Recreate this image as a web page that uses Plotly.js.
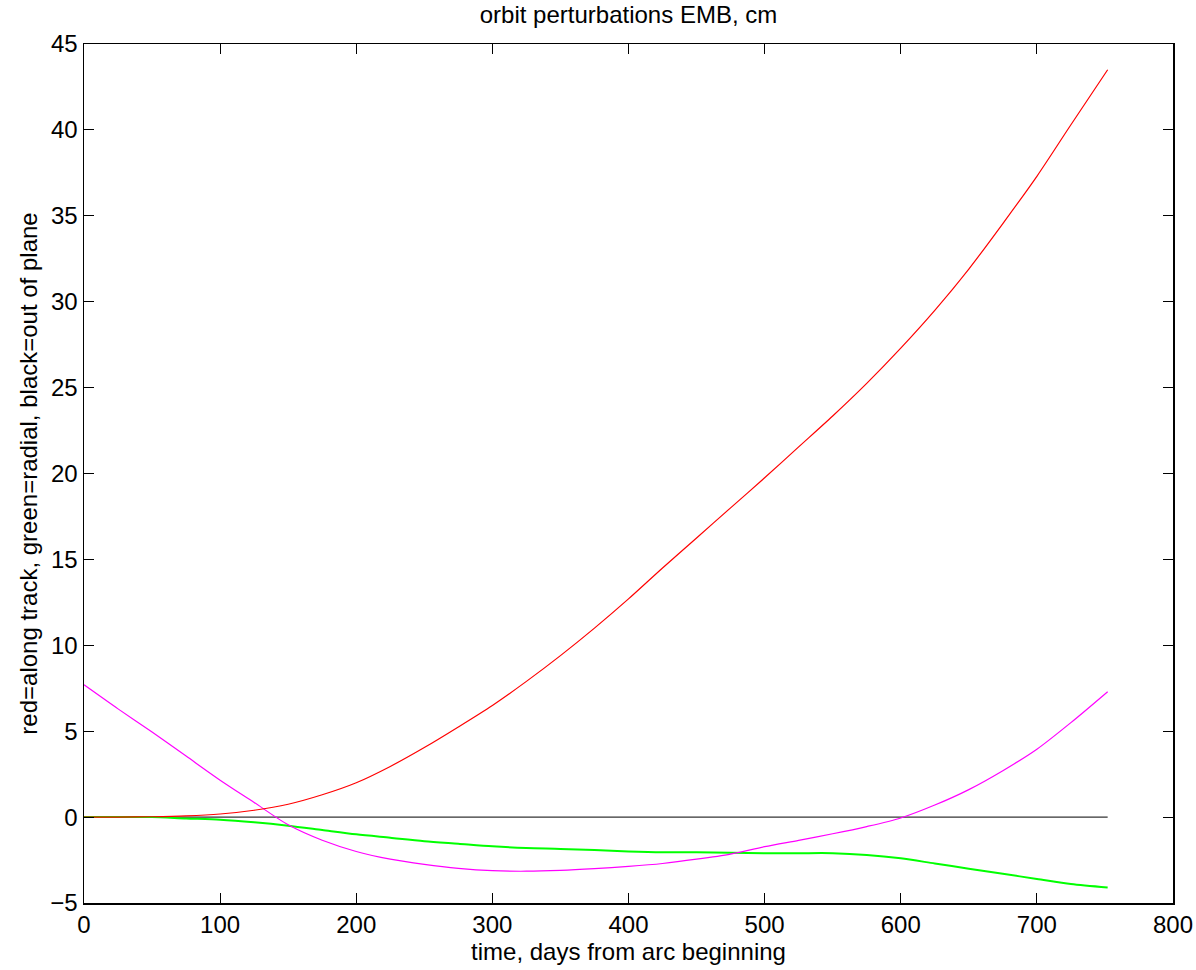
<!DOCTYPE html>
<html>
<head>
<meta charset="utf-8">
<script src="https://cdn.plot.ly/plotly-3.0.1.min.js"></script>
<style>html,body{margin:0;padding:0;background:#fff;}#chart{width:1196px;height:970px;}</style>
</head>
<body>
<div id="chart"></div>
<script>
const days = [0,25,50,75,100,125,150,175,200,225,250,275,300,325,350,375,400,425,450,475,500,525,550,575,600,625,650,675,700,725,752];
const alongTrack = [0,0,0.02,0.07,0.18,0.4,0.75,1.3,2.0,2.95,4.05,5.25,6.5,7.9,9.4,11.0,12.7,14.5,16.25,18.0,19.75,21.55,23.35,25.25,27.3,29.5,31.9,34.55,37.3,40.3,43.5];
const radial = [0,0,0,-0.08,-0.15,-0.3,-0.5,-0.75,-1.0,-1.2,-1.4,-1.55,-1.7,-1.8,-1.85,-1.92,-2.0,-2.05,-2.05,-2.08,-2.1,-2.1,-2.1,-2.2,-2.4,-2.7,-3.0,-3.3,-3.6,-3.9,-4.1];
const outOfPlane = [7.7,6.3,4.95,3.55,2.15,0.85,-0.45,-1.35,-2.0,-2.45,-2.75,-2.98,-3.12,-3.15,-3.1,-3.0,-2.87,-2.7,-2.45,-2.15,-1.72,-1.35,-0.97,-0.55,-0.05,0.7,1.6,2.7,3.95,5.5,7.3];
const zeroLine = [0,0];
const zeroDays = [0,752];

const traces = [
  {x: zeroDays, y: zeroLine, mode:'lines', line:{color:'#000000', width:1}, hoverinfo:'skip'},
  {x: days, y: radial, mode:'lines', line:{color:'#00ff00', width:2, shape:'spline', smoothing:0.8}},
  {x: days, y: outOfPlane, mode:'lines', line:{color:'#ff00ff', width:1.2, shape:'spline', smoothing:0.8}},
  {x: days, y: alongTrack, mode:'lines', line:{color:'#ff0000', width:1.2, shape:'spline', smoothing:0.8}}
];

const fontFam = 'Liberation Sans, Arial, Helvetica, sans-serif';
const layout = {
  width:1196, height:970,
  margin:{l:84, r:23, t:44, b:67},
  paper_bgcolor:'#ffffff', plot_bgcolor:'#ffffff',
  showlegend:false,
  font:{family:fontFam, color:'#000000', size:24},
  title:{text:'orbit perturbations EMB, cm', font:{family:fontFam, size:24, color:'#000'}, x:0.5, xanchor:'center', xref:'paper', y:0.985, yanchor:'middle'},
  xaxis:{
    range:[0,800], tickmode:'linear', tick0:0, dtick:100,
    ticks:'inside', ticklen:10, tickwidth:1, tickcolor:'#000',
    showline:true, linecolor:'#000', linewidth:1.5, mirror:'ticks',
    showgrid:false, zeroline:false, automargin:false,
    tickfont:{family:fontFam, size:24, color:'#000'},
    title:{text:'time, days from arc beginning', font:{family:fontFam, size:24, color:'#000'}, standoff:2}
  },
  yaxis:{
    range:[-5,45], tickmode:'linear', tick0:-5, dtick:5,
    ticks:'inside', ticklen:10, tickwidth:1, tickcolor:'#000',
    showline:true, linecolor:'#000', linewidth:1.5, mirror:'ticks',
    showgrid:false, zeroline:false, automargin:false,
    tickfont:{family:fontFam, size:24, color:'#000'},
    title:{text:'red=along track, green=radial, black=out of plane', font:{family:fontFam, size:24, color:'#000'}, standoff:6}
  }
};
Plotly.newPlot('chart', traces, layout, {staticPlot:true, displayModeBar:false});
</script>
</body>
</html>
